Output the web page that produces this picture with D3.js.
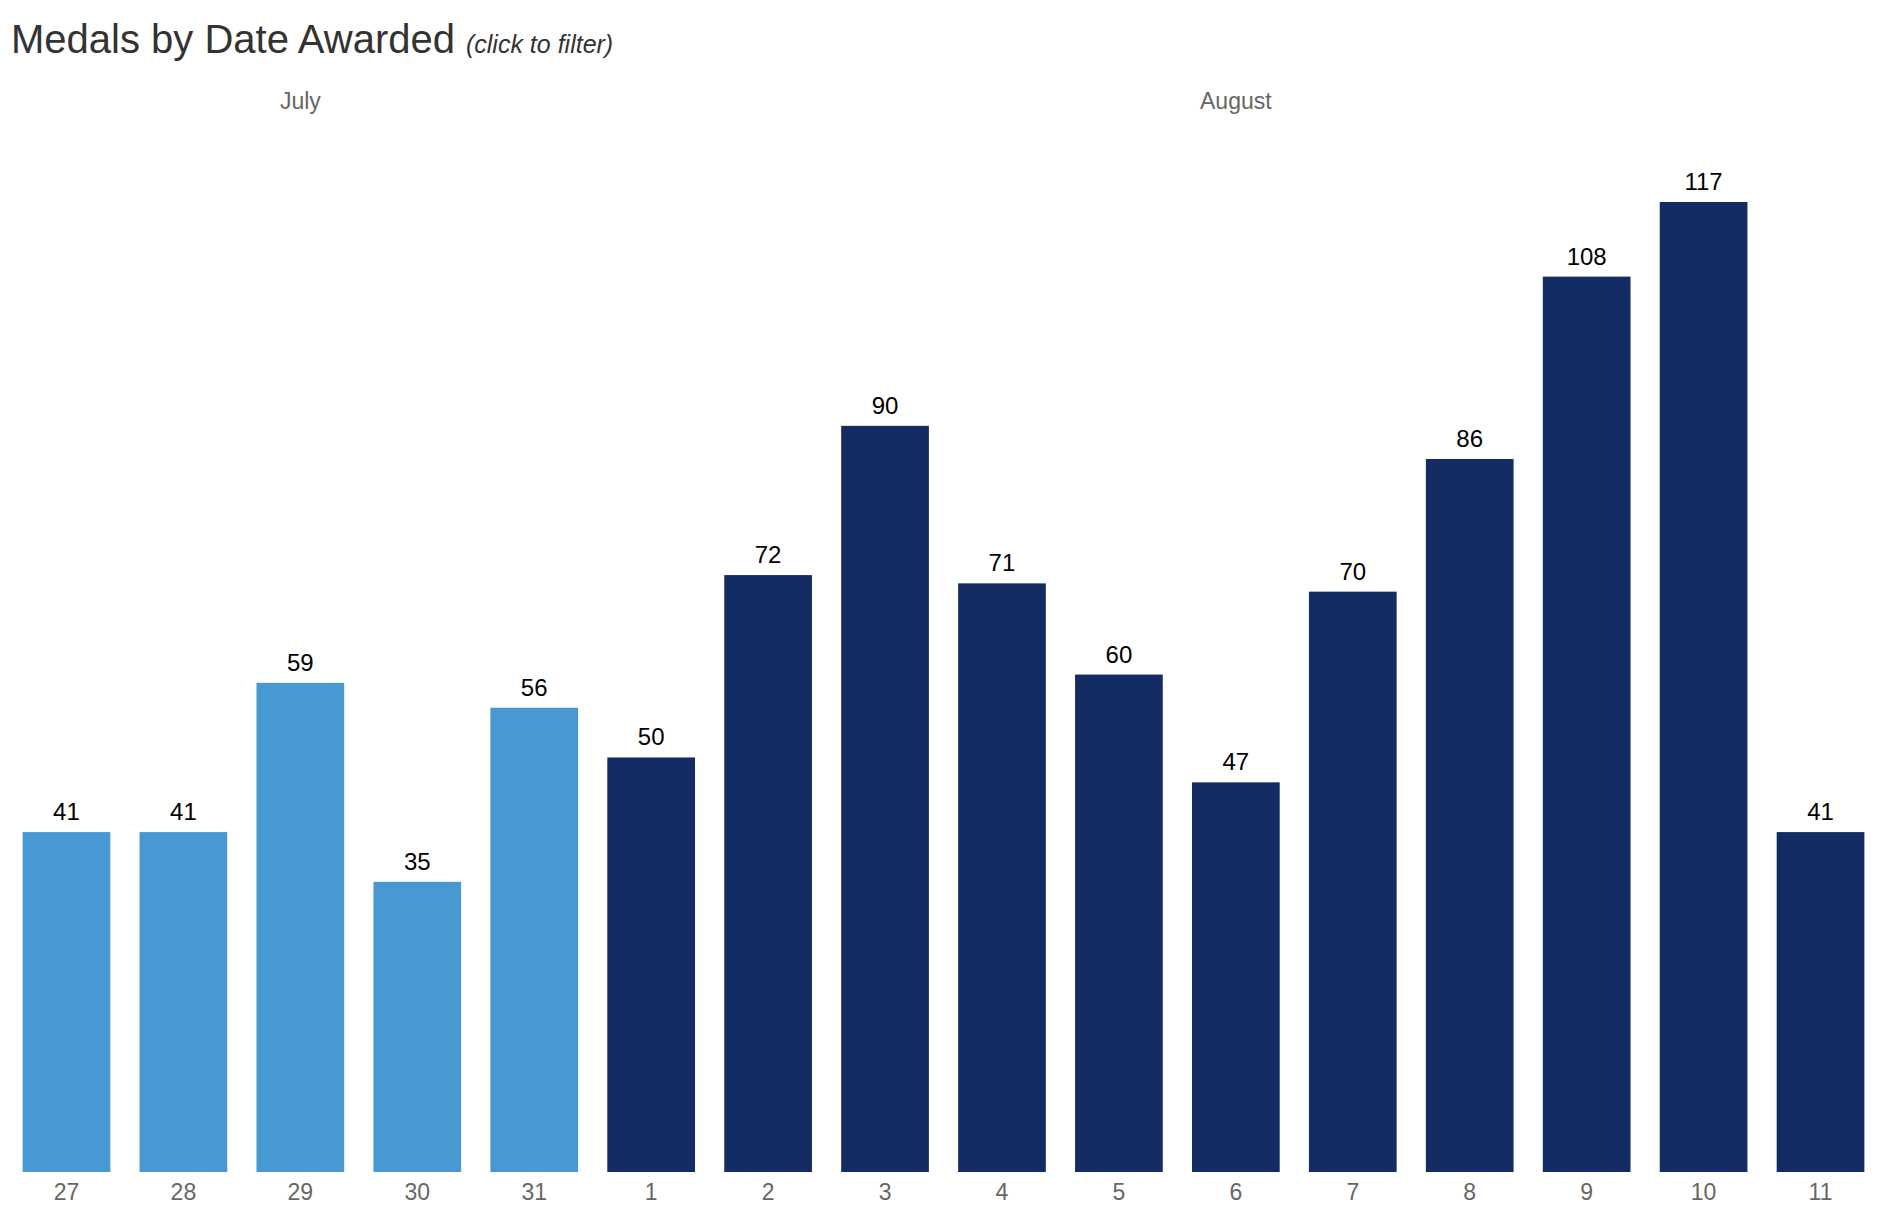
<!DOCTYPE html>
<html lang="en">
<head>
<meta charset="utf-8">
<title>Medals by Date Awarded</title>
<script src="https://cdn.jsdelivr.net/npm/d3@7"></script>
<style>
  body { margin: 0; background: #fff; }
  text { font-family: "Liberation Sans", Arial, Helvetica, sans-serif; }
</style>
</head>
<body>
<script>
// days of the Games, with month each one belongs to
var days   = ["27", "28", "29", "30", "31", "1", "2", "3", "4", "5", "6", "7", "8", "9", "10", "11"];
var months = ["July", "July", "July", "July", "July",
              "August", "August", "August", "August", "August", "August",
              "August", "August", "August", "August", "August"];
var medals = [41, 41, 59, 35, 56, 50, 72, 90, 71, 60, 47, 70, 86, 108, 117, 41];

var monthLabels = ["July", "August"];
var monthCenters = ["29", "6"]; // day the month label sits over

var width = 1887, height = 1221;

var svg = d3.select("body").append("svg")
    .attr("width", width)
    .attr("height", height);

var data = days.map(function(d, i) {
  return { day: d, month: months[i], value: medals[i], key: i };
});

var x = d3.scaleBand()
    .domain(d3.range(days.length))
    .range([8, 1879])
    .paddingInner(0.25)
    .paddingOuter(0.125);

var y = d3.scaleLinear()
    .domain([0, d3.max(medals)])
    .range([1172, 202]);

var color = d3.scaleOrdinal()
    .domain(monthLabels)
    .range(["#4899d2", "#132c63"]);

// title
var title = svg.append("text")
    .attr("x", 11)
    .attr("y", 53)
    .attr("font-size", 40)
    .attr("fill", "#333")
    .text("Medals by Date Awarded");

svg.append("text")
    .attr("x", 11 + title.node().getComputedTextLength() + 11)
    .attr("y", 53)
    .attr("font-size", 25)
    .attr("font-style", "italic")
    .attr("fill", "#333")
    .text("(click to filter)");

// month labels
svg.selectAll(".month")
    .data(monthLabels)
    .enter().append("text")
    .attr("class", "month")
    .attr("x", function(m, i) { return x(days.indexOf(monthCenters[i])) + x.bandwidth() / 2; })
    .attr("y", 109)
    .attr("text-anchor", "middle")
    .attr("font-size", 23)
    .attr("fill", "#666")
    .text(function(m) { return m; });

// bars
svg.selectAll(".bar")
    .data(data)
    .enter().append("rect")
    .attr("class", "bar")
    .attr("x", function(d) { return x(d.key); })
    .attr("y", function(d) { return y(d.value); })
    .attr("width", x.bandwidth())
    .attr("height", function(d) { return y(0) - y(d.value); })
    .attr("fill", function(d) { return color(d.month); })
    .style("cursor", "pointer");

// value labels
svg.selectAll(".val")
    .data(data)
    .enter().append("text")
    .attr("class", "val")
    .attr("x", function(d) { return x(d.key) + x.bandwidth() / 2; })
    .attr("y", function(d) { return y(d.value) - 12; })
    .attr("text-anchor", "middle")
    .attr("font-size", 24)
    .attr("fill", "#000")
    .text(function(d) { return d.value; });

// day axis
var axis = svg.append("g")
    .attr("transform", "translate(0," + y(0) + ")")
    .call(d3.axisBottom(x).tickSize(0).tickPadding(12)
      .tickFormat(function(i) { return days[i]; }));
axis.select(".domain").remove();
axis.selectAll("text")
    .attr("font-family", "Liberation Sans, Arial, sans-serif")
    .attr("font-size", 23)
    .attr("fill", "#666")
    .attr("dy", "0.71em");
</script>
</body>
</html>
